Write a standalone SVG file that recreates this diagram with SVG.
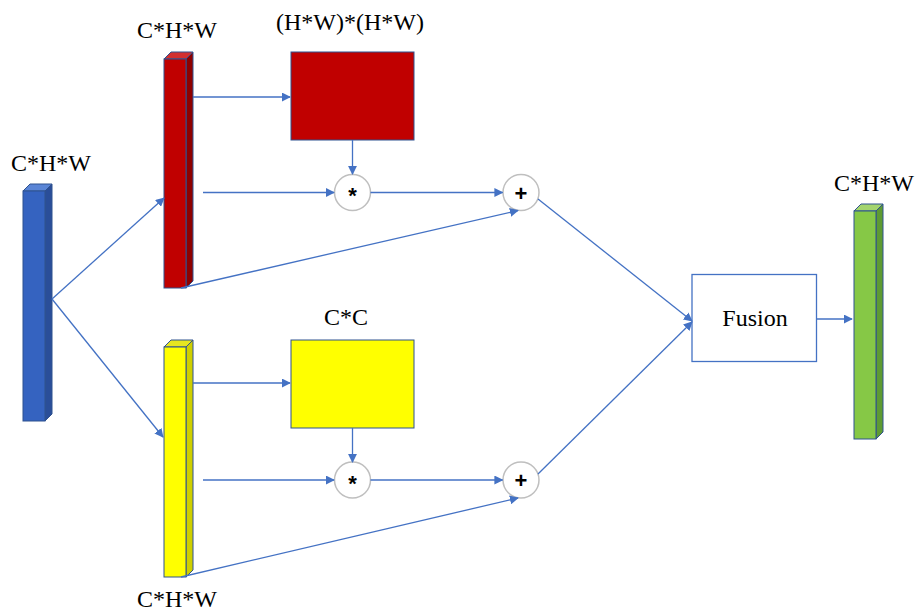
<svg xmlns="http://www.w3.org/2000/svg" width="918" height="614" viewBox="0 0 918 614">
  <style>
    .lbl { font-family: "Liberation Serif", "Times New Roman", serif; font-size: 24px; fill: #000; text-anchor: middle; }
    .op { font-family: "Liberation Sans", Arial, sans-serif; font-size: 22px; font-weight: bold; fill: #000; text-anchor: middle; }
    .edge { fill: none; stroke: #4472C4; stroke-width: 1.3; marker-end: url(#arr); }
    .circ { fill: #fff; stroke: #BFBFBF; stroke-width: 1.5; }
    .frame { stroke: #2F528F; stroke-width: 1; }
  </style>
  <defs>
    <marker id="arr" viewBox="0 0 10 10" refX="9" refY="5" markerWidth="9" markerHeight="9" markerUnits="userSpaceOnUse" orient="auto">
      <path d="M0,0 L10,5 L0,10 Z" fill="#4472C4"/>
    </marker>
  </defs>
  <rect width="918" height="614" fill="#fff"/>

  <!-- input feature -->
  <g id="input">
    <polygon class="frame" points="23,191 30,184 52,184 45,191" fill="#5A85D6"/>
    <polygon class="frame" points="45,191 52,184 52,414 45,421" fill="#2A4E99"/>
    <rect class="frame" x="23" y="191" width="22" height="230" fill="#3563C0"/>
    <text class="lbl" x="51" y="171">C*H*W</text>
  </g>

  <!-- upper branch feature -->
  <g id="pos-feat">
    <polygon class="frame" points="164,59 171,52 193,52 186,59" fill="#D23030"/>
    <polygon class="frame" points="186,59 193,52 193,281 186,288" fill="#8E0000"/>
    <rect class="frame" x="164" y="59" width="22" height="229" fill="#C00000"/>
    <text class="lbl" x="177" y="38">C*H*W</text>
  </g>

  <!-- lower branch feature -->
  <g id="chan-feat">
    <polygon class="frame" points="164,347 171,340 193,340 186,347" fill="#E6E620"/>
    <polygon class="frame" points="186,347 193,340 193,570 186,577" fill="#CFCF00"/>
    <rect class="frame" x="164" y="347" width="22" height="230" fill="#FFFF00"/>
    <text class="lbl" x="177" y="607">C*H*W</text>
  </g>

  <!-- output feature -->
  <g id="output">
    <polygon class="frame" points="854,211 861,204 883,204 876,211" fill="#A3D46E"/>
    <polygon class="frame" points="876,211 883,204 883,432 876,439" fill="#5E9B33"/>
    <rect class="frame" x="854" y="211" width="22" height="228" fill="#86C846"/>
    <text class="lbl" x="874" y="191">C*H*W</text>
  </g>

  <!-- attention maps -->
  <g id="pos-att">
    <rect class="frame" x="291" y="52" width="123" height="88" fill="#C00000"/>
    <text class="lbl" x="350" y="30">(H*W)*(H*W)</text>
  </g>
  <g id="chan-att">
    <rect class="frame" x="291" y="340" width="123" height="88" fill="#FFFF00"/>
    <text class="lbl" x="346" y="325">C*C</text>
  </g>

  <!-- operators -->
  <g id="mul-top">
    <circle class="circ" cx="352.5" cy="192.5" r="18"/>
    <text class="op" x="352.5" y="203">*</text>
  </g>
  <g id="add-top">
    <circle class="circ" cx="521" cy="192.5" r="18"/>
    <text class="op" x="521" y="200.5">+</text>
  </g>
  <g id="mul-bot">
    <circle class="circ" cx="352.5" cy="480" r="18"/>
    <text class="op" x="352.5" y="490.5">*</text>
  </g>
  <g id="add-bot">
    <circle class="circ" cx="521" cy="480" r="18"/>
    <text class="op" x="521" y="488">+</text>
  </g>

  <!-- fusion block -->
  <g id="fusion">
    <rect x="692" y="274.5" width="124.5" height="87" fill="#fff" stroke="#4472C4" stroke-width="1.3"/>
    <text class="lbl" x="755" y="326">Fusion</text>
  </g>

  <!-- connectors -->
  <g id="edges">
    <line class="edge" x1="52" y1="299" x2="164" y2="198"/>
    <line class="edge" x1="52" y1="299" x2="163" y2="437"/>

    <line class="edge" x1="193" y1="97" x2="290" y2="97"/>
    <line class="edge" x1="203" y1="192.5" x2="334" y2="192.5"/>
    <line class="edge" x1="352.5" y1="140" x2="352.5" y2="174"/>
    <line class="edge" x1="370.5" y1="192.5" x2="502.5" y2="192.5"/>
    <line class="edge" x1="181" y1="288" x2="518" y2="210.5"/>
    <line class="edge" x1="538" y1="199" x2="692" y2="321"/>

    <line class="edge" x1="193" y1="383" x2="290" y2="383"/>
    <line class="edge" x1="203" y1="480" x2="334" y2="480"/>
    <line class="edge" x1="352.5" y1="428" x2="352.5" y2="462"/>
    <line class="edge" x1="370.5" y1="480" x2="502.5" y2="480"/>
    <line class="edge" x1="181" y1="577" x2="518" y2="498"/>
    <line class="edge" x1="538" y1="474" x2="692" y2="322"/>

    <line class="edge" x1="816.5" y1="319" x2="852" y2="319"/>
  </g>
</svg>
